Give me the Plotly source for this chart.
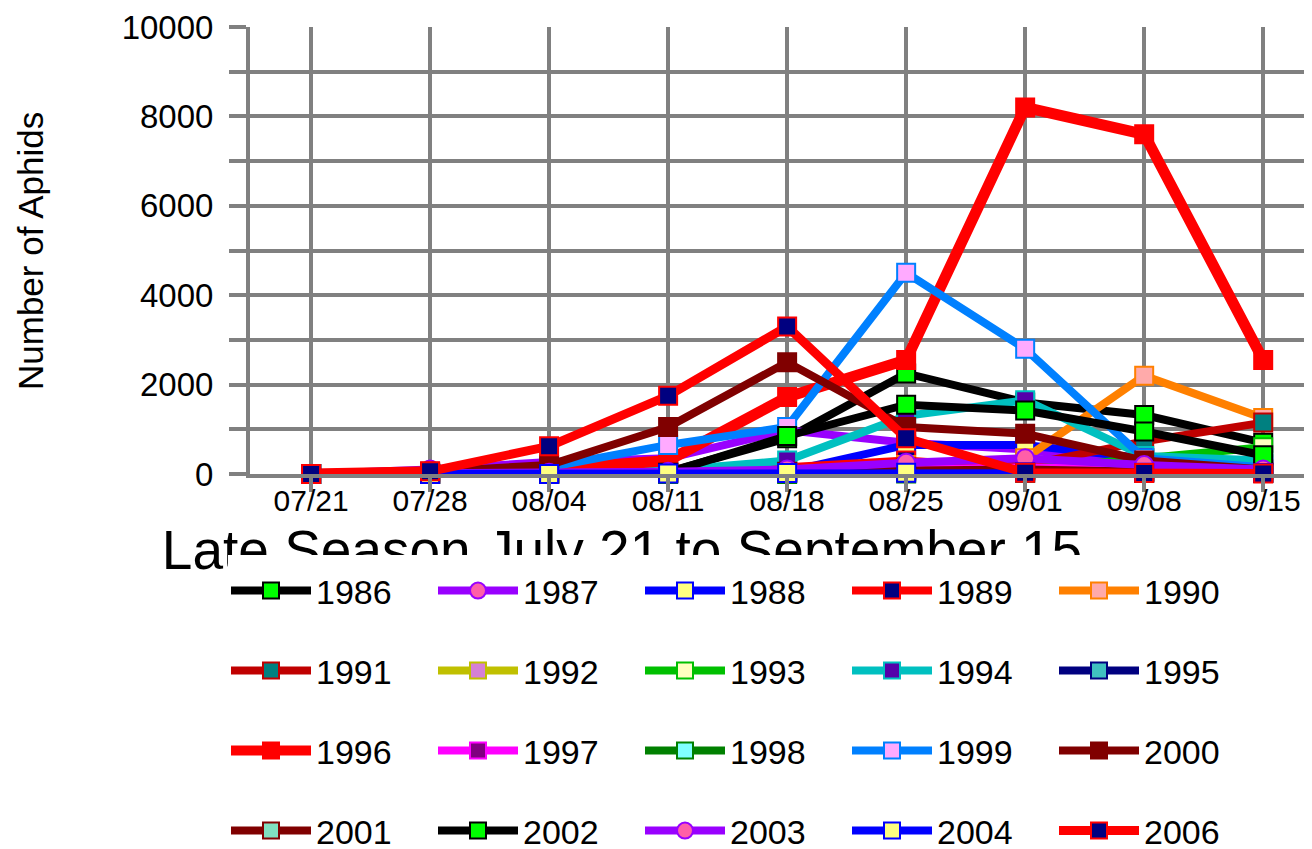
import plotly.graph_objects as go

# ---------------- data ----------------
DATES = ["07/21", "07/28", "08/04", "08/11", "08/18", "08/25", "09/01", "09/08", "09/15"]
Y_TICK_VALUES = [0, 1000, 2000, 3000, 4000, 5000, 6000, 7000, 8000, 9000, 10000]
Y_TICK_LABELS = ["0", "", "2000", "", "4000", "", "6000", "", "8000", "", "10000"]
YEARS = ["1986", "1987", "1988", "1989", "1990",
         "1991", "1992", "1993", "1994", "1995",
         "1996", "1997", "1998", "1999", "2000",
         "2001", "2002", "2003", "2004", "2006"]

Y1986 = [0, 0, 10, 50, 800, 2250, 1600, 1320, 700]
Y1987 = [0, 100, 270, 350, 980, 700, 550, 200, 100]
Y1988 = [0, 0, 20, 40, 50, 650, 650, 350, 220]
Y1989 = [0, 40, 80, 120, 150, 300, 120, 60, 30]
Y1990 = [0, 10, 30, 60, 100, 200, 350, 2200, 1250]
Y1991 = [0, 0, 20, 50, 80, 150, 200, 730, 1150]
Y1992 = [0, 20, 10, 20, 30, 60, 80, 50, 30]
Y1993 = [0, 0, 0, 10, 20, 50, 100, 350, 600]
Y1994 = [0, 0, 10, 80, 300, 1300, 1650, 400, 300]
Y1995 = [0, 0, 10, 20, 40, 100, 80, 50, 30]
Y1996 = [0, 20, 100, 300, 1720, 2550, 8200, 7600, 2550]
Y1997 = [0, 0, 0, 10, 30, 100, 150, 100, 50]
Y1998 = [0, 0, 0, 0, 0, 10, 20, 30, 20]
Y1999 = [0, 20, 150, 650, 1050, 4500, 2800, 350, 150]
Y2000 = [0, 50, 200, 1050, 2500, 1050, 900, 300, 100]
Y2001 = [0, 0, 0, 20, 50, 80, 100, 50, 30]
Y2002 = [0, 0, 0, 30, 850, 1550, 1420, 950, 420]
Y2003 = [0, 10, 30, 50, 100, 250, 350, 200, 100]
Y2004 = [0, 0, 0, 10, 20, 30, 40, 30, 20]
Y2006 = [0, 60, 620, 1750, 3300, 800, 30, 20, 10]

SERIES = [Y1986, Y1987, Y1988, Y1989, Y1990, Y1991, Y1992, Y1993, Y1994, Y1995,
          Y1996, Y1997, Y1998, Y1999, Y2000, Y2001, Y2002, Y2003, Y2004, Y2006]

TITLE = "Late Season July 21 to September 15"
Y_TITLE = "Number of Aphids"

# ---------------- styles ----------------
LINE_COLORS = ["#000000", "#9900FF", "#0000FF", "#FF0000", "#FF8000",
               "#C00000", "#C0C000", "#00C000", "#00C0C0", "#000080",
               "#FF0000", "#FF00FF", "#008000", "#0080FF", "#800000",
               "#800000", "#000000", "#9900FF", "#0000FF", "#FF0000"]
MARKER_FILLS = ["#00FF00", "#FF5FA8", "#FFFF80", "#000080", "#FFAAAA",
                "#008080", "#D580D5", "#FFFFC0", "#5500AA", "#40C0C0",
                "#FF0000", "#800080", "#80FFFF", "#FFAAFF", "#800000",
                "#80E0C0", "#00FF00", "#FF5FA8", "#FFFF80", "#000080"]
MARKER_SYMBOLS = ["square", "circle", "square", "square", "square",
                  "square", "square", "square", "square", "square",
                  "square", "square", "square", "square", "square",
                  "square", "square", "circle", "square", "square"]
LINE_WIDTHS = [8] * 20
LINE_WIDTHS[10] = 11
LINE_WIDTHS[19] = 9

FONT = "Liberation Sans, Arial, sans-serif"
GRID = "#808080"

W, H = 1312, 849
OFF = 8  # page offset of the plot div (browser default body margin)
# target positions in screen pixels
PL, PR, PT, PB = 250, 1312, 27, 474


def fx(px):
    return (px - OFF) / W


def fy(py):
    return 1 - (py - OFF) / H


fig = go.Figure()

LEGEND_IDS = ["legend", "legend2", "legend3", "legend4"]

for i, (year, vals) in enumerate(zip(YEARS, SERIES)):
    fig.add_trace(go.Scatter(
        x=DATES, y=vals, name=year, mode="lines+markers",
        line=dict(color=LINE_COLORS[i], width=LINE_WIDTHS[i]),
        marker=dict(symbol=MARKER_SYMBOLS[i], size=18, color=MARKER_FILLS[i],
                    line=dict(color=LINE_COLORS[i], width=2)),
        cliponaxis=False,
        legend=LEGEND_IDS[i // 5],
    ))

# Title placed in a full-figure helper subplot so that it sits beneath the legend area
fig.add_trace(go.Scatter(
    x=[622 - OFF], y=[555 - OFF], mode="text", text=[TITLE],
    textfont=dict(family=FONT, size=55, color="black"),
    textposition="middle center",
    xaxis="x2", yaxis="y2", showlegend=False, hoverinfo="skip",
    cliponaxis=False,
))

layout_legends = {}
ROW_Y = [591, 671, 751, 831]
for r, lid in enumerate(LEGEND_IDS):
    layout_legends[lid] = dict(
        orientation="h", xref="container", yref="container",
        x=(226 - OFF) / W, y=fy(ROW_Y[r]), xanchor="left", yanchor="middle",
        entrywidth=112, entrywidthmode="pixels", itemwidth=80,
        font=dict(family=FONT, size=34, color="black"),
        bgcolor="rgba(0,0,0,0)", borderwidth=0, tracegroupgap=0,
    )

fig.update_layout(
    width=W, height=H,
    margin=dict(l=0, r=0, t=0, b=0, pad=0, autoexpand=False),
    paper_bgcolor="white", plot_bgcolor="rgba(0,0,0,0)",
    font=dict(family=FONT, color="black"),
    showlegend=True,
    xaxis=dict(
        type="category", categoryorder="array", categoryarray=DATES,
        domain=[fx(PL), min(1, fx(PR))], anchor="y",
        range=[-0.513, 8.41], automargin=False,
        showgrid=True, gridcolor=GRID, gridwidth=4,
        showline=True, linecolor=GRID, linewidth=4,
        ticks="outside", ticklen=14, tickwidth=4, tickcolor=GRID,
        tickfont=dict(family=FONT, size=30, color="black"),
        ticklabelstandoff=-17,
        zeroline=False,
    ),
    yaxis=dict(
        domain=[fy(PB), fy(PT)], anchor="x",
        range=[0, 10000], tickmode="array", automargin=False,
        tickvals=Y_TICK_VALUES, ticktext=Y_TICK_LABELS,
        showgrid=True, gridcolor=GRID, gridwidth=4,
        showline=True, linecolor=GRID, linewidth=4,
        zeroline=True, zerolinecolor=GRID, zerolinewidth=4,
        ticks="outside", ticklen=17, tickwidth=4, tickcolor=GRID,
        tickfont=dict(family=FONT, size=33, color="black"),
        ticklabelstandoff=9,
    ),
    xaxis2=dict(domain=[0, 1], anchor="y2", range=[0, W], visible=False, automargin=False),
    yaxis2=dict(domain=[0, 1], anchor="x2", range=[H, 0], visible=False, automargin=False),
    shapes=[dict(
        type="rect", xref="paper", yref="paper", layer="above",
        x0=fx(228), x1=fx(W + 20), y0=fy(555), y1=fy(H + 20),
        fillcolor="white", line=dict(width=0),
    )],
    annotations=[dict(
        text=Y_TITLE, textangle=-90, xref="paper", yref="paper",
        x=fx(30), y=fy(251), xanchor="center", yanchor="middle",
        showarrow=False, font=dict(family=FONT, size=35, color="black"),
    )],
    **layout_legends,
)

fig.write_html("out.html")
